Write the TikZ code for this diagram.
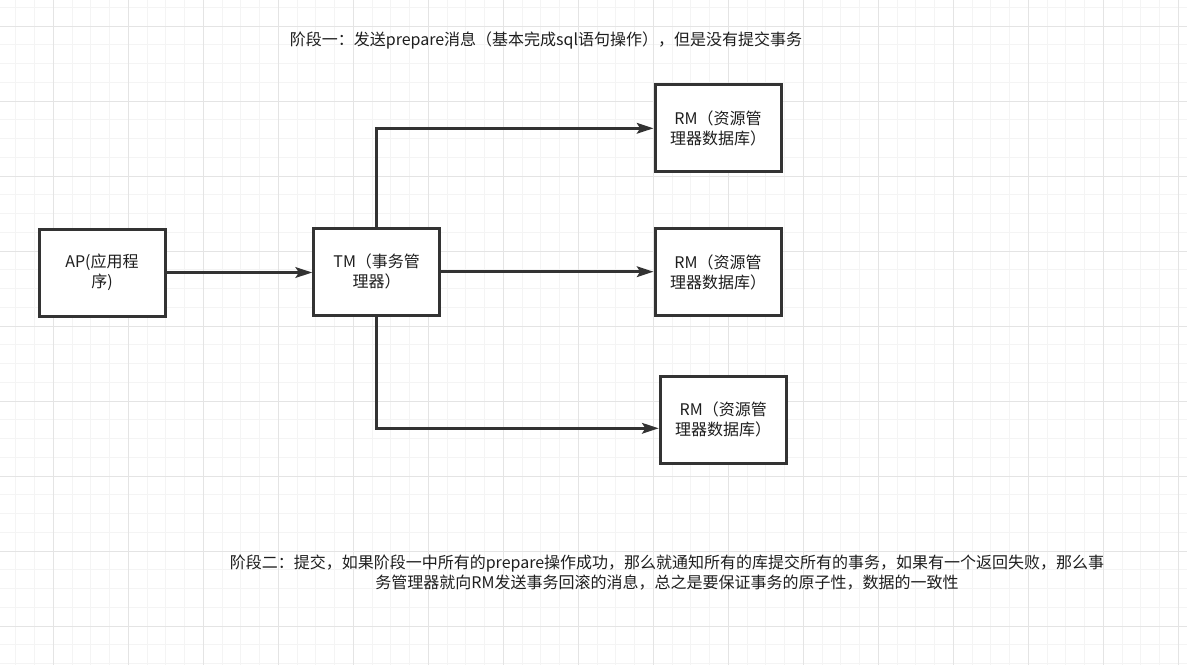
\documentclass[tikz,border=0pt]{standalone}
\usepackage{fontspec}
\setmainfont{Noto Sans CJK SC}
\usetikzlibrary{arrows.meta,calc}
\definecolor{gridminor}{HTML}{F4F4F4}
\definecolor{gridmajor}{HTML}{E4E4E4}
\definecolor{ink}{HTML}{333333}
\definecolor{txt}{HTML}{1E1E1E}
\begin{document}
\begin{tikzpicture}[x=0.75pt,y=-0.75pt,
  box/.style={draw=ink, line width=2.25pt, fill=white, minimum width=94.5pt, minimum height=65.25pt,
    inner sep=0pt, align=center, font=\fontsize{12pt}{15pt}\selectfont, text=txt},
  conn/.style={draw=ink, line width=2pt, -{Stealth[length=12.5pt,width=8pt,inset=2.5pt]}},
  lbl/.style={font=\fontsize{12pt}{15pt}\selectfont, align=center, inner sep=0pt, text=txt},
  gminor/.style={draw=gridminor, line width=0.75pt},
  gmajor/.style={draw=gridmajor, line width=0.75pt}]
\useasboundingbox (0,0) rectangle (1187,665);
\fill[white] (0,0) rectangle (1187,665);
% grid
\foreach \i in {-2,...,60} { \draw[gminor] ({53.333+18.75*\i},0) -- ({53.333+18.75*\i},665); }
\foreach \j in {-1,...,34} { \draw[gminor] (0,{26+18.75*\j}) -- (1187,{26+18.75*\j}); }
\foreach \i in {0,...,15} { \draw[gmajor] ({53.333+75*\i},0) -- ({53.333+75*\i},665); }
\foreach \j in {0,...,8} { \draw[gmajor] (0,{26+75*\j}) -- (1187,{26+75*\j}); }

% boxes
\node[box] (ap)  at (102,272.5) {AP(应用程\\序)};
\node[box] (tm)  at (376.7,271.7) {TM（事务管\\理器）};
\node[box] (rm1) at (718,128.3) {RM（资源管\\理器数据库）};
\node[box] (rm2) at (718,272) {RM（资源管\\理器数据库）};
\node[box] (rm3) at (723.2,419.5) {RM（资源管\\理器数据库）};

\coordinate (rm3in) at ($(rm3.west)+(0,8.8)$);

% connectors
\draw[conn] (ap.east) -- (ap.east -| tm.west);
\draw[conn] (tm.east) -- (tm.east -| rm2.west);
\draw[conn] (tm.north) |- (rm1.west);
\draw[conn] (tm.south) |- (rm3in);

% labels
\node[lbl] (t1) at (546,40) {阶段一：发送prepare消息（基本完成sql语句操作），但是没有提交事务};
\node[lbl] (t2) at (667,573) {阶段二：提交，如果阶段一中所有的prepare操作成功，那么就通知所有的库提交所有的事务，如果有一个返回失败，那么事\\务管理器就向RM发送事务回滚的消息，总之是要保证事务的原子性，数据的一致性};
\end{tikzpicture}
\end{document}
